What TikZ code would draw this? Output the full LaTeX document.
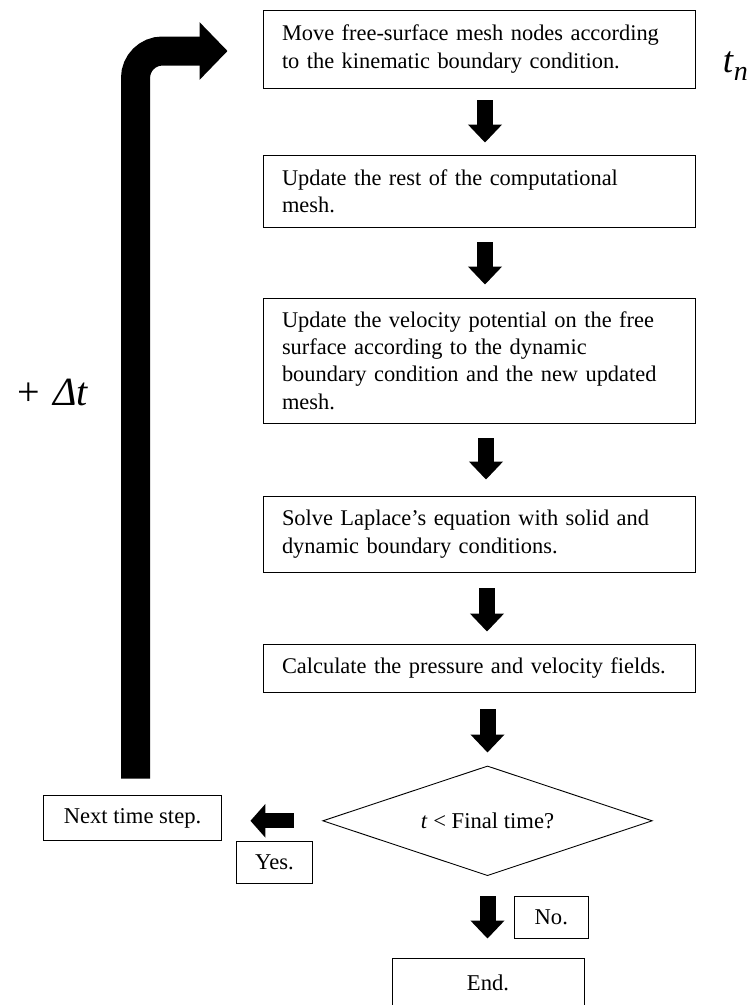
\documentclass[tikz,border=0pt]{standalone}
\usepackage{fontspec}
\setmainfont{Liberation Serif}
\usetikzlibrary{arrows.meta,shapes.geometric,calc}
\begin{document}
\begin{tikzpicture}[x=1pt,y=-1pt,
  stepbox/.style={draw, line width=0.9pt, inner xsep=19pt, inner ysep=0pt,
    text width=394pt, align=left, minimum width=432pt,
    font=\fontsize{22.4}{27.3}\selectfont},
  smallbox/.style={draw, line width=0.9pt, inner sep=0pt,
    font=\fontsize{22.6}{27}\selectfont},
  blk/.style={line width=16pt, -{Triangle[length=18pt,width=33pt]}},
  bigtxt/.style={inner sep=0pt}]
\useasboundingbox (0,0) rectangle (752,1005);

\node[stepbox, minimum height=78pt] (b1) at (479,49)
  {\mbox{Move free-surface mesh nodes according}\\\mbox{to the kinematic boundary condition.}};
\node[stepbox, minimum height=72pt] (b2) at (479,191)
  {\mbox{Update the rest of the computational}\\\mbox{mesh.}};
\node[stepbox, minimum height=125pt] (b3) at (479,360.5)
  {\mbox{Update the velocity potential on the free}\\\mbox{surface according to the dynamic}\\\mbox{boundary condition and the new updated}\\\mbox{mesh.}};
\node[stepbox, minimum height=76pt] (b4) at (479,534)
  {\mbox{Solve Laplace’s equation with solid and}\\\mbox{dynamic boundary conditions.}};
\node[stepbox, minimum height=48pt] (b5) at (479,668)
  {\mbox{Calculate the pressure and velocity fields.}};

\node[draw, line width=0.9pt, shape=diamond, aspect=3.005, minimum width=329.6pt,
  minimum height=109.7pt, inner sep=0pt, font=\fontsize{22.6}{27}\selectfont]
  (dec) at (487.5,820.8) {\textit{t} < Final time?};

\node[smallbox, minimum width=178.4pt, minimum height=45.7pt] (nts) at (132.5,818) {Next time step.};
\node[smallbox, minimum width=75.6pt, minimum height=41.6pt] (yes) at (274.5,862.5) {Yes.};
\node[smallbox, minimum width=74pt, minimum height=41.6pt] (no) at (551.3,917.5) {No.};
\node[smallbox, minimum width=192pt, minimum height=50pt] (endb) at (488,983) {End.};

\node[bigtxt, anchor=east, font=\fontsize{37}{37}\selectfont] (tn) at (748,66)
  {\textit{t}\raisebox{-0.22em}{\fontsize{28}{28}\selectfont\textit{n}}};
\node[bigtxt, font=\fontsize{40}{40}\selectfont] (dt) at (53,392) {+\hspace{13pt}\textit{Δt}};

\draw[blk, shorten <=12pt, shorten >=12pt] ([xshift=6pt]b1.south) -- ([xshift=6pt]b2.north);
\draw[blk, shorten <=15pt, shorten >=13pt] ([xshift=6pt]b2.south) -- ([xshift=6pt]b3.north);
\draw[blk, shorten <=15pt, shorten >=16pt] ([xshift=7pt]b3.south) -- ([xshift=7pt]b4.north);
\draw[blk, shorten <=16pt, shorten >=12pt] ([xshift=8pt]b4.south) -- ([xshift=8pt]b5.north);
\draw[blk, shorten <=17pt, shorten >=13pt] (b5.south -| dec.north) -- (dec.north);
\draw[blk, shorten <=20pt, shorten >=19pt] (dec.south) -- (dec.south |- endb.north);
\draw[line width=15pt, -{Triangle[length=15pt,width=33pt]}, shorten <=28.7pt, shorten >=28.3pt]
  (dec.west) -- (dec.west -| nts.east);
\draw[line width=29pt, rounded corners=27pt, -{Triangle[length=28pt,width=56pt]},
  shorten <=16pt, shorten >=35pt] ([xshift=3pt]nts.north) |- ([yshift=-2pt]b1.west);
\end{tikzpicture}
\end{document}
